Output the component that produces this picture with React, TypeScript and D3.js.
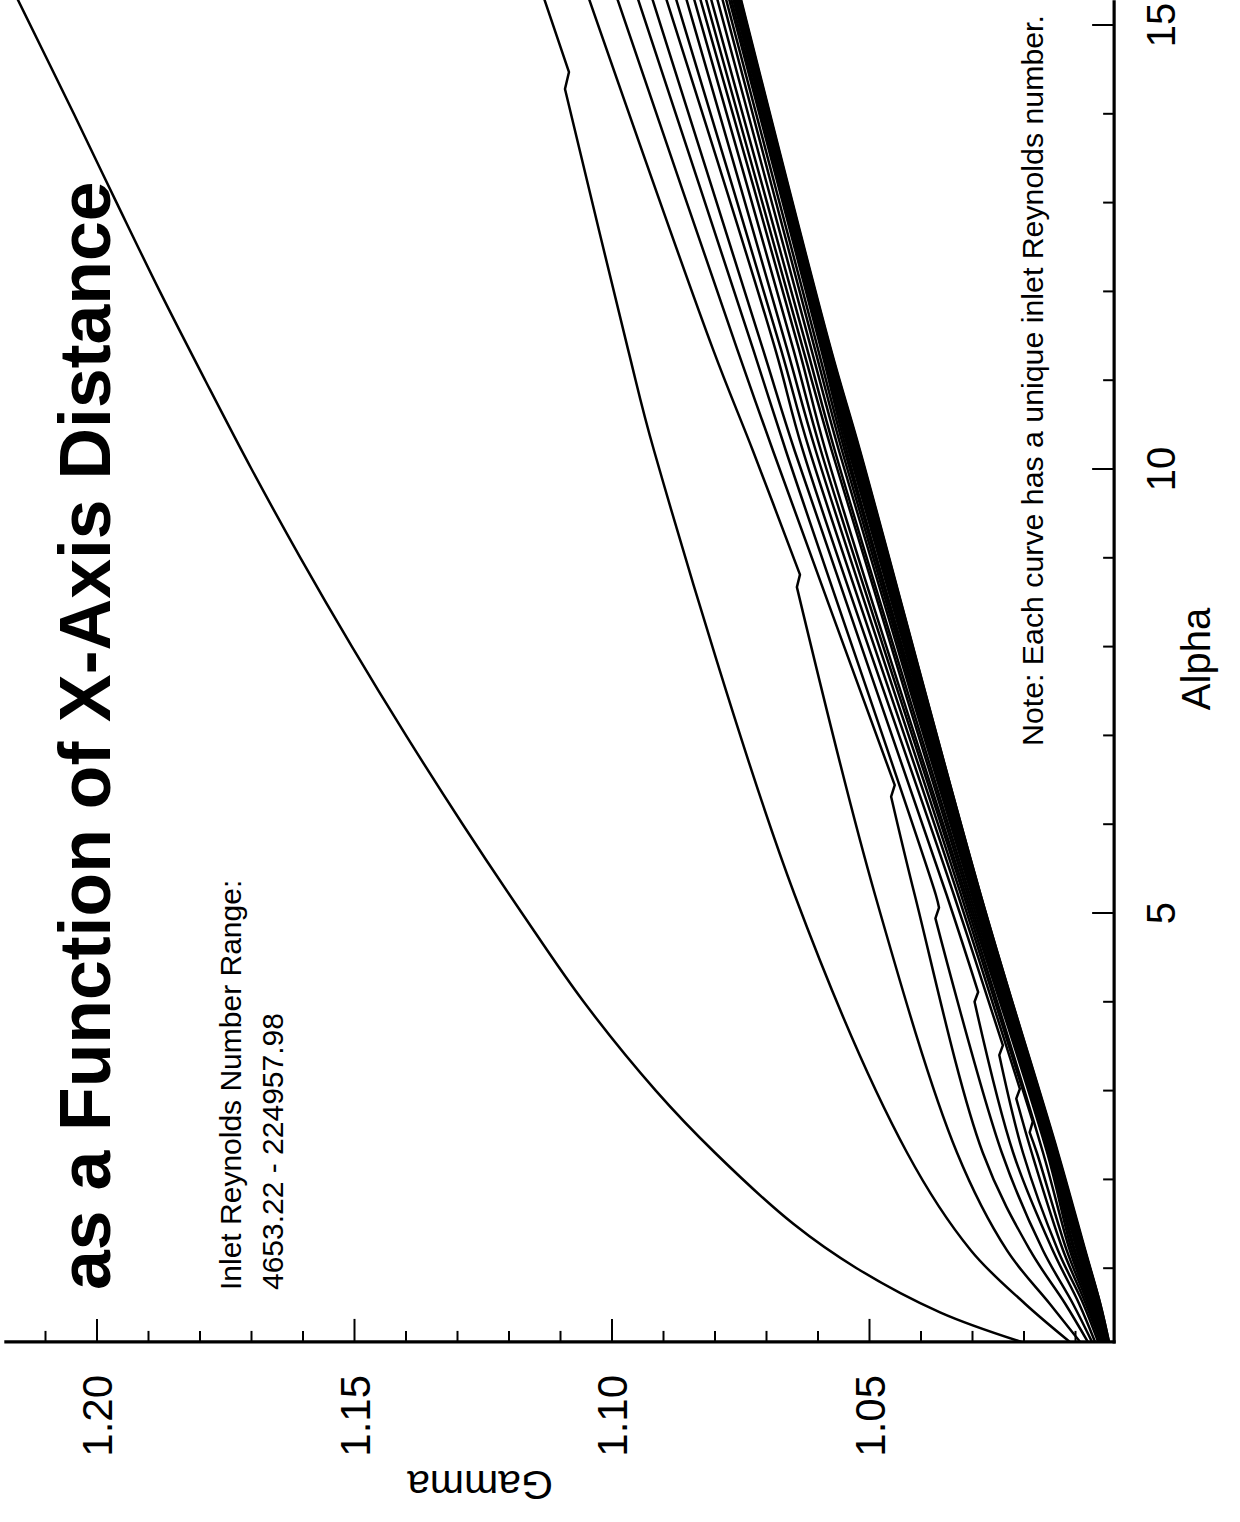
import React from 'react';
import * as d3 from 'd3';

// ---- data ----
// Outermost curve (lowest inlet Reynolds number)
const OUTER_ALPHA = [0.17, 0.5, 1.0, 1.5, 2.3, 3.0, 4.0, 5.0, 6.0, 7.0, 8.0, 9.0, 10.0, 11.0, 12.0, 13.0, 14.0, 15.3];
const OUTER_GAMMA = [1.0205, 1.0362, 1.0525, 1.0648, 1.08, 1.0915, 1.1055, 1.1175, 1.129, 1.14, 1.1505, 1.1605, 1.17, 1.179, 1.1878, 1.1962, 1.2045, 1.2155];

// Remaining curves: gamma at these alpha levels
const ALPHA_LEVELS = [15.3, 11.35, 10.2, 5.2, 2.3, 1.2, 0.6, 0.17];
const GAMMA_CURVES: number[][] = [
  [1.1132, 1.0969, 1.0918, 1.0645, 1.0427, 1.0303, 1.0198, 1.0111],
  [1.1045, 1.0804, 1.0726, 1.0489, 1.033, 1.0233, 1.015, 1.0091],
  [1.099, 1.0757, 1.0687, 1.0412, 1.028, 1.0188, 1.012, 1.0076],
  [1.095, 1.0726, 1.0662, 1.0371, 1.0243, 1.0163, 1.0105, 1.0068],
  [1.0922, 1.0707, 1.0645, 1.035, 1.0221, 1.0144, 1.0093, 1.0062],
  [1.0895, 1.0683, 1.0629, 1.0336, 1.0202, 1.0134, 1.0085, 1.0056],
  [1.0876, 1.0672, 1.0616, 1.0328, 1.0185, 1.0124, 1.008, 1.0052],
  [1.0856, 1.066, 1.0604, 1.0322, 1.0175, 1.0117, 1.0076, 1.0051],
  [1.0841, 1.0648, 1.0594, 1.0317, 1.0163, 1.0111, 1.0073, 1.0049],
  [1.0829, 1.0637, 1.0585, 1.0313, 1.0155, 1.0107, 1.007, 1.0047],
  [1.0818, 1.0629, 1.0573, 1.0309, 1.0152, 1.0103, 1.0068, 1.0045],
  [1.0808, 1.0621, 1.0567, 1.0305, 1.015, 1.0101, 1.0066, 1.0045],
  [1.0796, 1.0613, 1.0559, 1.0301, 1.0148, 1.0097, 1.0064, 1.0043],
  [1.0786, 1.0606, 1.0553, 1.0299, 1.0146, 1.0095, 1.0062, 1.0043],
  [1.0779, 1.06, 1.0548, 1.0297, 1.0145, 1.0093, 1.0061, 1.0041],
  [1.0773, 1.0594, 1.0544, 1.0295, 1.0144, 1.0091, 1.006, 1.0041],
  [1.0769, 1.0592, 1.054, 1.0293, 1.0143, 1.0089, 1.0059, 1.004],
  [1.0765, 1.0589, 1.0537, 1.0292, 1.0142, 1.0088, 1.0058, 1.0039],
  [1.0762, 1.0586, 1.0534, 1.0291, 1.0141, 1.0087, 1.0057, 1.0039],
  [1.076, 1.0584, 1.0531, 1.029, 1.014, 1.0086, 1.0056, 1.0038],
  [1.0758, 1.0582, 1.0528, 1.0289, 1.0139, 1.0085, 1.0056, 1.0038],
  [1.0756, 1.058, 1.0526, 1.0288, 1.0138, 1.0085, 1.0055, 1.0037],
  [1.0754, 1.0579, 1.0524, 1.0287, 1.0137, 1.0084, 1.0054, 1.0037],
  [1.0753, 1.0578, 1.0522, 1.0286, 1.0136, 1.0083, 1.0054, 1.0036],
  [1.0752, 1.0577, 1.052, 1.0285, 1.0136, 1.0082, 1.0053, 1.0036],
  [1.0751, 1.0576, 1.0519, 1.0284, 1.0135, 1.0082, 1.0052, 1.0035],
  [1.075, 1.0575, 1.0518, 1.0284, 1.0134, 1.0081, 1.0052, 1.0035],
];

// Small notches: [curve index, alpha above, gamma above, alpha below, gamma below]
const KINKS: number[][] = [
  [0, 14.47, 1.10835, 14.28, 1.10913],
  [1, 8.81, 1.0635, 8.67, 1.0641],
  [2, 6.44, 1.0451, 6.31, 1.0458],
  [3, 5.06, 1.0365, 4.94, 1.0372],
  [4, 4.11, 1.0289, 4.0, 1.0296],
  [5, 3.51, 1.0241, 3.4, 1.0248],
  [6, 3.02, 1.0208, 2.91, 1.0215],
  [7, 2.65, 1.0183, 2.53, 1.0189],
];

const ALPHA_RANGE = [0.17, 15.28];
const GAMMA_RANGE = [1.0025, 1.218];
const ALPHA_LABELS = [5, 10, 15];
const GAMMA_LABELS = [1.05, 1.1, 1.15, 1.2];

const TITLE = 'as a Function of X-Axis Distance';
const RANGE_LINES = ['Inlet Reynolds Number Range:', '4653.22 - 224957.98'];
const NOTE = 'Note: Each curve has a unique inlet Reynolds number.';
const X_TITLE = 'Alpha';
const Y_TITLE = 'Gamma';

const FONT = '"Liberation Sans", Arial, Helvetica, sans-serif';

type P = [number, number];

export default function App() {
  const W = 1240;
  const H = 1522;
  // Chart is rotated: alpha runs upward, gamma runs leftward
  const g = d3.scaleLinear().domain([1.0, 1.2]).range([1127, 97]);
  const a = d3.scaleLinear().domain([0, 15]).range([1357, 25]);

  const line = d3
    .line<P>()
    .x((d) => g(d[1]))
    .y((d) => a(d[0]))
    .curve(d3.curveCatmullRom.alpha(0.5));

  const paths: string[] = [];
  const outer: P[] = OUTER_ALPHA.map((al, i) => [al, OUTER_GAMMA[i]] as P).sort((p, q) => q[0] - p[0]);
  paths.push(line(outer) || '');

  GAMMA_CURVES.forEach((vals, ci) => {
    const pts: P[] = ALPHA_LEVELS.map((al, i) => [al, vals[i]] as P);
    const k = KINKS.find((kk) => kk[0] === ci);
    if (!k) {
      paths.push(line(pts.sort((p, q) => q[0] - p[0])) || '');
      return;
    }
    const upper: P[] = pts.filter((p) => p[0] > k[1]);
    upper.push([k[1], k[2]]);
    const lower: P[] = [[k[3], k[4]] as P].concat(pts.filter((p) => p[0] < k[3]));
    upper.sort((p, q) => q[0] - p[0]);
    lower.sort((p, q) => q[0] - p[0]);
    const dU = line(upper) || '';
    const dL = (line(lower) || '').replace(/^M/, 'L');
    paths.push(dU + dL);
  });

  const axisY = a(ALPHA_RANGE[0]);
  const axisX = g(GAMMA_RANGE[0]);
  const gAxis = d3.scaleLinear().domain(GAMMA_RANGE).range([g(GAMMA_RANGE[0]), g(GAMMA_RANGE[1])]);
  const aAxis = d3.scaleLinear().domain(ALPHA_RANGE).range([a(ALPHA_RANGE[0]), a(ALPHA_RANGE[1])]);
  const gTicks = gAxis.ticks(20);
  const aTicks = aAxis.ticks(15);
  const isMajorG = (v: number) => GAMMA_LABELS.some((m) => Math.abs(m - v) < 1e-6);
  const isMajorA = (v: number) => ALPHA_LABELS.some((m) => Math.abs(m - v) < 1e-6);

  return (
    <svg
      width={W}
      height={H}
      viewBox={`0 0 ${W} ${H}`}
      style={{ position: 'absolute', left: 0, top: 0, background: '#fff' }}
      fontFamily={FONT}
    >
      <rect x={0} y={0} width={W} height={H} fill="#fff" />
      <defs>
        <clipPath id="plotClip">
          <rect x={0} y={0} width={axisX} height={axisY} />
        </clipPath>
      </defs>

      {/* curves */}
      <g clipPath="url(#plotClip)" fill="none" stroke="#000" strokeWidth={2.5} strokeLinejoin="round">
        {paths.map((d, i) => (
          <path key={i} d={d} />
        ))}
      </g>

      {/* gamma axis (bottom) */}
      <line x1={gAxis(GAMMA_RANGE[1])} x2={axisX + 1.5} y1={axisY} y2={axisY} stroke="#000" strokeWidth={3.2} />
      {gTicks.map((v) => (
        <line
          key={'gt' + v}
          x1={g(v)}
          x2={g(v)}
          y1={axisY}
          y2={axisY - (isMajorG(v) ? 23 : 11)}
          stroke="#000"
          strokeWidth={2}
        />
      ))}
      {GAMMA_LABELS.map((v) => (
        <text
          key={'gl' + v}
          transform={`translate(${g(v)},${axisY + 33}) rotate(-90)`}
          textAnchor="end"
          dy="0.36em"
          fontSize={42}
          fill="#000"
        >
          {d3.format('.2f')(v)}
        </text>
      ))}
      <text transform={`translate(480,1471) rotate(180)`} textAnchor="middle" fontSize={41} fill="#000">
        {Y_TITLE}
      </text>

      {/* alpha axis (right) */}
      <line x1={axisX} x2={axisX} y1={axisY + 1.5} y2={aAxis(ALPHA_RANGE[1])} stroke="#000" strokeWidth={3.2} />
      {aTicks.map((v) => (
        <line
          key={'at' + v}
          x1={axisX}
          x2={axisX - (isMajorA(v) ? 22 : 11)}
          y1={a(v)}
          y2={a(v)}
          stroke="#000"
          strokeWidth={2}
        />
      ))}
      {ALPHA_LABELS.map((v) => (
        <text
          key={'al' + v}
          transform={`translate(${axisX + 61},${a(v)}) rotate(-90)`}
          textAnchor="middle"
          fontSize={40}
          fill="#000"
        >
          {String(v)}
        </text>
      ))}
      <text transform={`translate(1210,659) rotate(-90)`} textAnchor="middle" fontSize={40} fill="#000">
        {X_TITLE}
      </text>

      {/* title */}
      <text transform={`translate(110,1290) rotate(-90)`} textAnchor="start" fontSize={71.5} fontWeight="bold" fill="#000">
        {TITLE}
      </text>

      {/* annotations */}
      {RANGE_LINES.map((t, i) => (
        <text
          key={'rl' + i}
          transform={`translate(${241 + i * 42},1290) rotate(-90)`}
          textAnchor="start"
          fontSize={30}
          fill="#000"
        >
          {t}
        </text>
      ))}
      <text transform={`translate(1043,746) rotate(-90)`} textAnchor="start" fontSize={30.3} fill="#000">
        {NOTE}
      </text>
    </svg>
  );
}
